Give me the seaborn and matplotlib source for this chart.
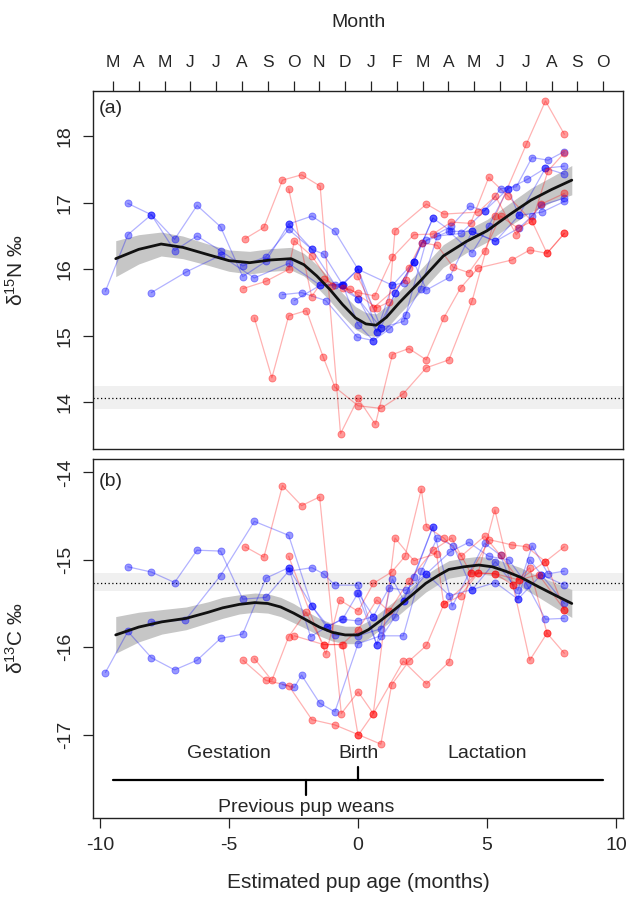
import matplotlib
matplotlib.use("Agg")
import matplotlib.pyplot as plt
import numpy as np
import pandas as pd
import seaborn as sns


# Month letters along the top axis (centred on each month)
MONTHS = ["M", "A", "M", "J", "J", "A", "S", "O", "N", "D",
          "J", "F", "M", "A", "M", "J", "J", "A", "S", "O"]

# (a) d15N tracks, one list per individual
n15_blue_x = [
    [-9.79, -8.92, -8.01, -7.11, -6.24, -5.33, -4.47, -3.57, -2.69, -1.79, -1.34, -0.6, 0.0, 0.59],
    [-8.92, -8.01, -7.11, -6.24, -5.33, -4.47, -3.57, -2.69, -1.79, -0.9, 0.0, 0.72, 1.43, 2.16, 2.90],
    [-8.01, -6.66, -5.33, -4.02, -2.69, -1.47, -0.63, 0.0, 0.88, 1.78, 2.65, 3.61, 4.32, 4.90, 5.52, 6.13, 6.74, 7.36, 7.99],
    [-2.93, -2.19, -1.25, -0.03, 0.59, 1.2, 1.84, 2.42, 3.07, 3.99, 4.90, 5.81, 6.55, 7.26, 7.99],
    [-2.69, -1.79, -0.9, 0.0, 0.72, 1.33, 1.78, 2.46, 3.52, 4.42, 5.06, 5.81, 6.23, 7.13, 7.99],
    [-2.47, -1.47, -0.63, 0.0, 0.88, 1.43, 2.16, 2.65, 3.54, 4.42, 5.32, 6.23, 6.74, 7.10, 7.99],
    [-0.6, 0.0, 1.33, 2.16, 2.90, 3.61, 4.42, 5.32, 6.23, 7.26, 7.99],
]
n15_blue_y = [
    [15.67, 16.52, 16.82, 16.28, 16.50, 16.28, 16.05, 16.19, 16.60, 16.30, 16.23, 15.77, 15.17, 14.93],
    [16.99, 16.82, 16.45, 16.96, 16.64, 15.89, 16.12, 16.68, 16.80, 16.57, 16.0, 15.06, 15.64, 16.11, 16.77],
    [15.65, 15.96, 16.21, 15.87, 16.09, 15.76, 15.77, 15.56, 15.12, 15.22, 16.44, 16.65, 16.95, 16.88, 17.21, 17.24, 17.68, 17.64, 17.77],
    [15.62, 15.65, 15.53, 14.98, 14.93, 15.10, 15.32, 15.71, 16.50, 16.54, 16.88, 17.21, 17.35, 17.52, 17.55],
    [16.68, 16.30, 15.77, 15.56, 15.06, 15.76, 15.80, 16.40, 16.57, 16.25, 16.65, 17.21, 16.81, 16.86, 17.02],
    [15.53, 15.76, 15.77, 16.0, 15.12, 15.64, 16.11, 15.69, 15.88, 16.57, 16.42, 16.62, 16.80, 16.96, 17.07],
    [15.77, 16.0, 15.76, 16.11, 16.77, 16.57, 16.57, 16.42, 16.81, 17.52, 17.43],
]
n15_red_x = [
    [-4.02, -3.34, -2.69, -2.0, -1.35, -0.9, 0.0, 0.88, 1.75, 2.64, 3.52, 4.42, 5.32, 6.52, 7.26, 7.99],
    [-4.38, -3.65, -2.93, -2.19, -1.47, -0.68, 0.0, 0.67, 1.33, 1.97, 2.64, 3.32, 3.97, 4.65, 5.96, 6.65, 7.32, 7.99],
    [-2.69, -1.8, -1.34, -0.6, 0.0, 0.64, 1.33, 2.16, 2.90, 3.61, 4.36, 5.06, 5.81, 6.74, 7.36, 7.99],
    [-4.46, -3.57, -2.69, -2.47, -1.79, -1.0, -0.3, 0.72, 1.2, 1.43, 2.65, 3.32, 4.65, 5.32, 6.13, 7.10, 7.99],
    [-0.03, 0.59, 1.84, 1.96, 2.46, 3.07, 3.69, 4.29, 4.90, 5.52, 6.19, 6.74, 7.32, 7.99],
]
n15_red_y = [
    [15.27, 14.37, 15.30, 15.38, 14.68, 14.23, 13.95, 13.91, 14.13, 14.52, 14.64, 15.53, 16.80, 17.88, 18.53, 18.03],
    [16.46, 16.63, 17.34, 17.42, 17.25, 13.53, 14.06, 13.67, 14.72, 14.81, 14.64, 15.27, 15.72, 16.02, 16.14, 16.29, 16.24, 16.54],
    [17.21, 15.59, 15.85, 15.72, 15.65, 15.60, 16.18, 16.52, 16.53, 16.71, 16.69, 17.38, 17.10, 16.72, 17.48, 17.75],
    [15.71, 15.82, 16.0, 16.43, 16.2, 15.75, 15.70, 15.42, 15.51, 16.58, 16.98, 16.83, 16.86, 17.10, 16.52, 16.98, 17.14],
    [15.90, 15.42, 15.84, 16.02, 16.40, 16.36, 16.03, 15.95, 16.28, 16.80, 16.62, 16.72, 16.24, 16.54],
]

# (b) d13C tracks
c13_blue_x = [
    [-9.79, -8.92, -8.01, -7.11, -6.24, -5.33, -4.47, -3.57, -2.69, -1.79, -1.22, -0.63, 0.0, 0.59],
    [-8.92, -8.01, -7.11, -6.24, -5.33, -4.47, -3.57, -2.69, -1.79, -1.34, -0.9, 0.0, 0.72, 1.43, 2.16, 2.90],
    [-8.01, -6.69, -5.33, -4.02, -2.69, -1.79, -0.9, 0.0, 0.88, 1.78, 2.65, 3.56, 4.29, 5.06, 5.84, 6.55, 7.26, 7.99],
    [-2.93, -2.47, -2.19, -1.49, -0.9, 0.0, 0.88, 1.75, 2.45, 3.07, 3.69, 4.42, 5.32, 6.19, 7.10, 7.99],
    [-2.69, -1.84, -1.22, -0.6, 0.0, 0.59, 1.2, 1.84, 2.65, 3.54, 4.42, 5.32, 6.19, 6.74, 7.36, 7.99],
    [-0.03, 0.72, 1.33, 1.78, 2.90, 3.65, 4.90, 5.52, 6.19, 6.65, 7.10, 7.99],
]
c13_blue_y = [
    [-16.29, -15.82, -16.12, -16.26, -16.15, -15.90, -15.85, -15.21, -15.09, -15.53, -15.77, -15.68, -15.70, -15.65],
    [-15.08, -15.14, -15.26, -14.89, -14.90, -15.45, -15.43, -15.13, -15.09, -15.16, -15.29, -15.29, -15.97, -15.65, -15.20, -14.62],
    [-15.71, -15.69, -15.18, -14.56, -14.72, -15.53, -15.86, -15.87, -15.79, -15.47, -15.16, -14.91, -14.80, -14.96, -15.00, -15.29, -15.68, -15.67],
    [-16.43, -16.46, -16.32, -16.64, -16.74, -15.96, -15.87, -15.87, -15.13, -14.75, -14.84, -15.34, -15.26, -15.45, -15.17, -15.50],
    [-15.09, -15.88, -15.77, -15.68, -15.38, -15.65, -15.32, -15.35, -15.16, -15.41, -15.34, -15.02, -15.35, -14.84, -15.16, -15.13],
    [-15.38, -15.97, -15.22, -15.47, -14.62, -15.53, -14.81, -14.95, -15.45, -15.00, -15.17, -15.29],
]
c13_red_x = [
    [-4.46, -3.57, -2.69, -1.79, -0.9, 0.0, 0.88, 1.30, 1.97, 2.65, 3.32, 3.97, 4.65, 5.30, 6.0, 6.65, 7.32, 7.99],
    [-4.38, -3.65, -2.93, -2.19, -1.49, -0.65, 0.0, 0.59, 1.75, 2.65, 3.52, 4.36, 5.09, 5.97, 6.52, 7.26, 7.99],
    [-4.02, -3.34, -2.69, -2.02, -1.34, -0.63, 0.0, 0.72, 1.2, 1.97, 2.91, 3.62, 4.36, 5.32, 6.23, 7.0, 7.99],
    [-2.69, -1.25, -0.71, 0.0, 0.59, 1.30, 1.82, 2.45, 2.65, 3.32, 3.99, 4.90, 5.52, 6.23, 7.26, 7.99],
    [-2.47, -1.34, -0.6, 0.0, 0.59, 1.43, 2.16, 3.04, 3.32, 4.65, 5.32, 6.0, 6.65, 7.32],
]
c13_red_y = [
    [-16.15, -16.38, -16.44, -16.83, -16.89, -17.00, -17.11, -16.43, -16.16, -15.98, -15.51, -15.41, -15.15, -14.43, -15.29, -16.15, -15.84, -16.07],
    [-14.85, -14.97, -14.15, -14.38, -14.28, -16.76, -16.51, -16.76, -16.16, -16.42, -16.17, -15.15, -14.77, -14.83, -14.85, -15.02, -14.85],
    [-16.13, -16.38, -15.88, -15.60, -15.97, -15.97, -15.80, -15.46, -15.59, -15.24, -14.89, -14.75, -15.15, -15.16, -15.23, -15.17, -15.57],
    [-14.96, -16.08, -15.46, -15.59, -15.27, -15.14, -14.96, -14.19, -14.62, -14.75, -14.96, -14.73, -14.95, -15.23, -15.02, -15.57],
    [-15.87, -15.97, -15.97, -17.01, -16.76, -14.75, -15.01, -14.93, -15.51, -15.15, -15.16, -15.29, -15.09, -15.84],
]

# fitted smooth and its band half-width
n15_fit_x = [-9.39, -8.5, -7.63, -6.79, -5.9, -5.0, -4.2, -3.4, -2.6, -2.1, -1.6, -1.1, -0.6, -0.1,
             0.3, 0.7, 1.1, 1.6, 2.4, 3.3, 4.2, 5.0, 5.9, 6.7, 7.5, 8.28]
n15_fit_y = [16.16, 16.30, 16.38, 16.33, 16.23, 16.13, 16.10, 16.14, 16.16, 16.07, 15.90, 15.70, 15.47, 15.27,
             15.18, 15.16, 15.28, 15.50, 15.82, 16.20, 16.42, 16.58, 16.83, 17.04, 17.20, 17.34]
n15_fit_se = [0.27, 0.22, 0.18, 0.17, 0.16, 0.16, 0.17, 0.17, 0.17, 0.17, 0.17, 0.17, 0.17, 0.17,
              0.17, 0.17, 0.17, 0.17, 0.17, 0.17, 0.17, 0.17, 0.17, 0.18, 0.19, 0.22]
c13_fit_x = [-9.39, -8.5, -7.6, -6.66, -5.8, -5.25, -4.6, -4.0, -3.5, -3.0, -2.5, -2.0, -1.5, -1.0, -0.5, 0.0,
             0.4, 0.81, 1.2, 1.58, 2.1, 2.62, 3.1, 3.52, 4.1, 4.68, 5.2, 5.71, 6.3, 7.0, 7.6, 8.28]
c13_fit_y = [-15.86, -15.77, -15.71, -15.67, -15.60, -15.55, -15.51, -15.49, -15.50, -15.54, -15.61, -15.69, -15.77,
             -15.83, -15.86, -15.86, -15.80, -15.71, -15.62, -15.53, -15.40, -15.27, -15.18, -15.11, -15.08, -15.06,
             -15.08, -15.13, -15.20, -15.31, -15.40, -15.50]
c13_fit_se = [0.21, 0.17, 0.14, 0.13, 0.12, 0.12, 0.11, 0.11, 0.11, 0.11, 0.11, 0.10, 0.10, 0.10, 0.10, 0.10,
              0.10, 0.10, 0.10, 0.10, 0.10, 0.10, 0.10, 0.10, 0.10, 0.10, 0.10, 0.10, 0.11, 0.12, 0.14, 0.16]

# reference (prey) level with its range
n15_ref = [14.07, 13.90, 14.25]
c13_ref = [-15.26, -15.36, -15.15]


def tracks_df(xs, ys):
    rows = []
    for i, (tx, ty) in enumerate(zip(xs, ys)):
        for x, y in zip(tx, ty):
            rows.append((i, x, y))
    return pd.DataFrame(rows, columns=["track", "age", "value"])


sns.set_theme(style="ticks")
plt.rcParams["font.family"] = ["Liberation Sans", "DejaVu Sans"]
plt.rcParams["mathtext.fontset"] = "custom"
plt.rcParams["mathtext.rm"] = "Liberation Sans"
plt.rcParams["mathtext.it"] = "Liberation Sans:italic"
plt.rcParams["mathtext.default"] = "regular"

BLUE = "#0000ff"
RED = "#ff0000"

fig = plt.figure(figsize=(6.29, 8.98), dpi=100)
ax_a = fig.add_axes([0.1483, 0.5, 0.842, 0.3987])
ax_b = fig.add_axes([0.1483, 0.0896, 0.842, 0.3989])


def draw_panel(ax, bx, by, rx, ry, fx, fy, fse, ref):
    ax.axhspan(ref[1], ref[2], color="#f0f0f0", lw=0, zorder=0)
    ax.axhline(ref[0], color="black", ls=(0, (1, 2)), lw=0.9, zorder=1)
    lo = [y - s for y, s in zip(fy, fse)]
    hi = [y + s for y, s in zip(fy, fse)]
    ax.fill_between(fx, lo, hi, color="#c6c6c6", lw=0, zorder=2)
    for xs, ys, col in [(bx, by, BLUE), (rx, ry, RED)]:
        df = tracks_df(xs, ys)
        sns.lineplot(data=df, x="age", y="value", units="track", estimator=None, sort=False,
                     color=col, alpha=0.3, lw=0.9, ax=ax, legend=False, zorder=3)
        sns.scatterplot(data=df, x="age", y="value", color=col, s=26, alpha=0.4,
                        edgecolor=col, linewidth=0.6, ax=ax, legend=False, zorder=4)
    sns.lineplot(x=fx, y=fy, color="#111111", lw=2.0, sort=False, ax=ax, zorder=5)
    ax.set_xlim(-10.26, 10.26)
    for sp in ax.spines.values():
        sp.set_visible(True)
        sp.set_color("#222222")
        sp.set_linewidth(1.0)
    ax.tick_params(axis="y", length=7, width=0.9, color="#222222", labelsize=14, pad=7)


draw_panel(ax_a, n15_blue_x, n15_blue_y, n15_red_x, n15_red_y, n15_fit_x, n15_fit_y, n15_fit_se, n15_ref)
draw_panel(ax_b, c13_blue_x, c13_blue_y, c13_red_x, c13_red_y, c13_fit_x, c13_fit_y, c13_fit_se, c13_ref)

# panel (a): months on top, no bottom ticks
ax_a.set_ylim(13.30, 18.68)
ax_a.set_yticks([14, 15, 16, 17, 18])
ax_a.set_yticklabels(["14", "15", "16", "17", "18"], rotation=90, va="center")
ax_a.set_xticks(np.arange(-9.5, 10, 1))
ax_a.set_xticklabels(MONTHS)
ax_a.tick_params(axis="x", top=True, labeltop=True, bottom=False, labelbottom=False,
                 length=7, width=0.9, color="#222222", labelsize=12.5, pad=8)
ax_a.set_xlabel("Month", fontsize=14, labelpad=20)
ax_a.xaxis.set_label_position("top")
ax_a.set_ylabel("δ$^{15}$N ‰", fontsize=15)
ax_a.yaxis.set_label_coords(-0.125, 0.5)
ax_a.text(-10.05, 18.42, "(a)", fontsize=14, va="center", ha="left")

# panel (b)
ax_b.set_ylim(-17.95, -13.85)
ax_b.set_yticks([-17, -16, -15, -14])
ax_b.set_yticklabels(["-17", "-16", "-15", "-14"], rotation=90, va="center")
ax_b.set_xticks([-10, -5, 0, 5, 10])
ax_b.set_xticklabels(["-10", "-5", "0", "5", "10"])
ax_b.tick_params(axis="x", length=7, width=0.9, color="#222222", labelsize=14, pad=7)
ax_b.set_xlabel("Estimated pup age (months)", fontsize=15, labelpad=14)
ax_b.set_ylabel("δ$^{13}$C ‰", fontsize=15)
ax_b.yaxis.set_label_coords(-0.125, 0.5)
ax_b.text(-10.05, -14.1, "(b)", fontsize=14, va="center", ha="left")

# life-history timeline
ax_b.plot([-9.5, 9.5], [-17.52, -17.52], color="black", lw=1.6)
ax_b.plot([0, 0], [-17.52, -17.37], color="black", lw=1.6)
ax_b.plot([-2.0, -2.0], [-17.52, -17.69], color="black", lw=1.6)
ax_b.text(-5.0, -17.22, "Gestation", fontsize=14, ha="center", va="center")
ax_b.text(0.0, -17.22, "Birth", fontsize=14, ha="center", va="center")
ax_b.text(5.0, -17.22, "Lactation", fontsize=14, ha="center", va="center")
ax_b.text(-2.0, -17.83, "Previous pup weans", fontsize=14, ha="center", va="center")

fig.savefig("out.png", dpi=100, facecolor="white")
